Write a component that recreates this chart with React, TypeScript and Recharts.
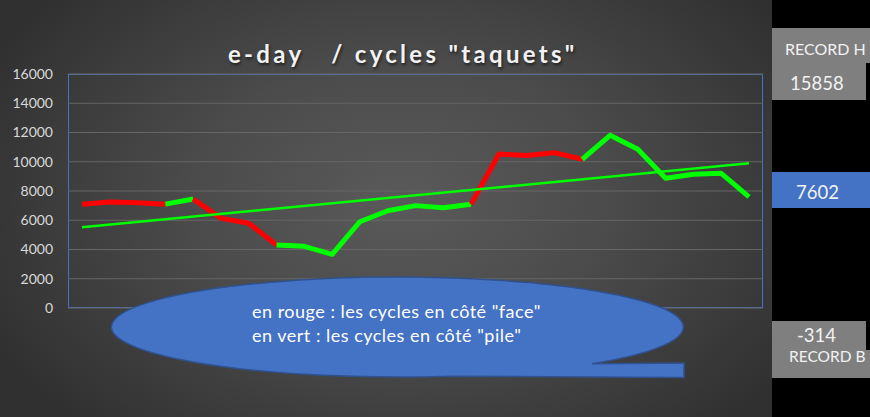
import { LineChart, Line, XAxis, YAxis, CartesianGrid } from 'recharts';

// cycle index (x categories, not labelled on the chart)
const cycles = [
  '1', '2', '3', '4', '5', '6', '7', '8', '9', '10', '11', '12', '13',
  '14', '15', '16', '17', '18', '19', '20', '21', '22', '23', '24', '25',
];

// e-day value for each cycle
const cycleValues = [
  7100, 7250, 7200, 7100, 7450, 6130, 5790, 4310, 4220, 3670, 5900, 6650, 7000,
  6860, 7090, 10530, 10420, 10620, 10170, 11810, 10850, 8870, 9140, 9210, 7602,
];

// side of each segment between two cycles: face = red, pile = green
const segmentSide = [
  'face', 'face', 'face', 'pile', 'face', 'face', 'face', 'pile', 'pile', 'pile', 'pile', 'pile',
  'pile', 'pile', 'face', 'face', 'face', 'face', 'pile', 'pile', 'pile', 'pile', 'pile', 'pile',
];

// linear trend, first and last cycle
const trendEnds = [5520, 9890];

const yTicks = [0, 2000, 4000, 6000, 8000, 10000, 12000, 14000, 16000];

const recordHigh = 15858;
const lastValue = 7602;
const recordLow = -314;

const sideColor: Record<string, string> = { face: '#ff0000', pile: '#00ff00' };

// group consecutive segments of the same side into runs, each run is one Line
const runs: { from: number; to: number; side: string }[] = [];
segmentSide.forEach((side, i) => {
  const last = runs[runs.length - 1];
  if (last && last.side === side) last.to = i + 1;
  else runs.push({ from: i, to: i + 1, side });
});

const chartData = cycles.map((name, i) => {
  const row: any = { name };
  runs.forEach((r, k) => {
    row[`run${k}`] = i >= r.from && i <= r.to ? cycleValues[i] : null;
  });
  row.trend = i === 0 ? trendEnds[0] : i === cycles.length - 1 ? trendEnds[1] : null;
  return row;
});

const FONT = 'Lato, "Open Sans", sans-serif';

// a spreadsheet cell; text placed by its baseline
const Cell = ({ top, height, width, bg, textX, baseline, size, children }: any) => (
  <div
    style={{
      position: 'absolute',
      left: 772,
      top,
      width,
      height,
      background: bg,
    }}
  >
    <div
      style={{
        position: 'absolute',
        left: textX - 772,
        top: baseline - top - 0.987 * size,
        fontSize: size,
        lineHeight: 'normal',
        color: '#f2f2f2',
        fontFamily: FONT,
        whiteSpace: 'nowrap',
      }}
    >
      {children}
    </div>
  </div>
);

export default function App() {
  return (
    <div
      style={{
        position: 'absolute',
        left: 0,
        top: 0,
        width: 870,
        height: 417,
        background: '#000',
        overflow: 'hidden',
        fontFamily: FONT,
      }}
    >
      {/* chart area */}
      <div
        style={{
          position: 'absolute',
          left: 0,
          top: 0,
          width: 772,
          height: 417,
          background: 'radial-gradient(ellipse 60% 75% at 52% 48%, #5a5a5a 0%, #4b4b4b 45%, #303030 100%)',
        }}
      />
      {/* plot border */}
      <div
        style={{
          position: 'absolute',
          left: 68,
          top: 74,
          width: 695,
          height: 234,
          border: '1px solid #4472c4',
          boxSizing: 'border-box',
        }}
      />
      <div style={{ position: 'absolute', left: 0, top: 0 }}>
        <LineChart
          width={772}
          height={417}
          data={chartData}
          margin={{ top: 74, right: 9, bottom: 109, left: 8 }}
        >
          <CartesianGrid vertical={false} stroke="#666666" strokeWidth={1} />
          <XAxis dataKey="name" hide padding={{ left: 14, right: 14 }} />
          <YAxis
            domain={[0, 16000]}
            ticks={yTicks}
            width={60}
            axisLine={false}
            tickLine={false}
            tickMargin={9}
            tick={{ fill: '#d9d9d9', fontSize: 14, fontFamily: FONT }}
          />
          {runs.map((r, k) => (
            <Line
              key={k}
              type="linear"
              dataKey={`run${k}`}
              stroke={sideColor[r.side]}
              strokeWidth={5}
              strokeLinejoin="round"
              dot={false}
              activeDot={false}
              isAnimationActive={false}
            />
          ))}
          <Line
            type="linear"
            dataKey="trend"
            stroke="#00ff00"
            strokeWidth={2.5}
            dot={false}
            activeDot={false}
            connectNulls
            isAnimationActive={false}
          />
        </LineChart>
      </div>
      {/* title */}
      <div
        style={{
          position: 'absolute',
          left: 228,
          top: 39,
          color: '#f2f2f2',
          fontSize: 24,
          lineHeight: '30px',
          fontWeight: 700,
          whiteSpace: 'pre',
          textShadow: '1px 2px 3px rgba(0,0,0,0.6)',
          letterSpacing: 3.3,
        }}
      >
        {'e-day   / cycles "taquets"'}
      </div>
      {/* oval callout */}
      <svg width={772} height={417} style={{ position: 'absolute', left: 0, top: 0 }}>
        <path
          d="M 592 363.7 L 684 363 L 684 377.5 L 450 376.2 A 286 50 0 1 1 592 363.7 Z"
          fill="#4472c4"
          stroke="#2f528f"
          strokeWidth={1.5}
        />
        <text x={252} y={317.5} fill="#ffffff" fontSize={18} letterSpacing={0.5} fontFamily={FONT}>
          en rouge : les cycles en côté "face"
        </text>
        <text x={252} y={341.5} fill="#ffffff" fontSize={18} letterSpacing={0.5} fontFamily={FONT}>
          en vert : les cycles en côté "pile"
        </text>
      </svg>
      {/* spreadsheet cells on the right */}
      <Cell top={28} height={35} width={98} bg="#7f7f7f" textX={785} baseline={55} size={16}>
        RECORD H
      </Cell>
      <Cell top={63} height={37} width={94} bg="#7f7f7f" textX={790} baseline={90.7} size={18.5}>
        {recordHigh}
      </Cell>
      <Cell top={172} height={36} width={98} bg="#4472c4" textX={796} baseline={199} size={18.5}>
        {lastValue}
      </Cell>
      <Cell top={321} height={29} width={94} bg="#7f7f7f" textX={797} baseline={342.7} size={18.5}>
        {recordLow}
      </Cell>
      <Cell top={350} height={28} width={98} bg="#7f7f7f" textX={789} baseline={362.3} size={15.5}>
        RECORD B
      </Cell>
    </div>
  );
}
